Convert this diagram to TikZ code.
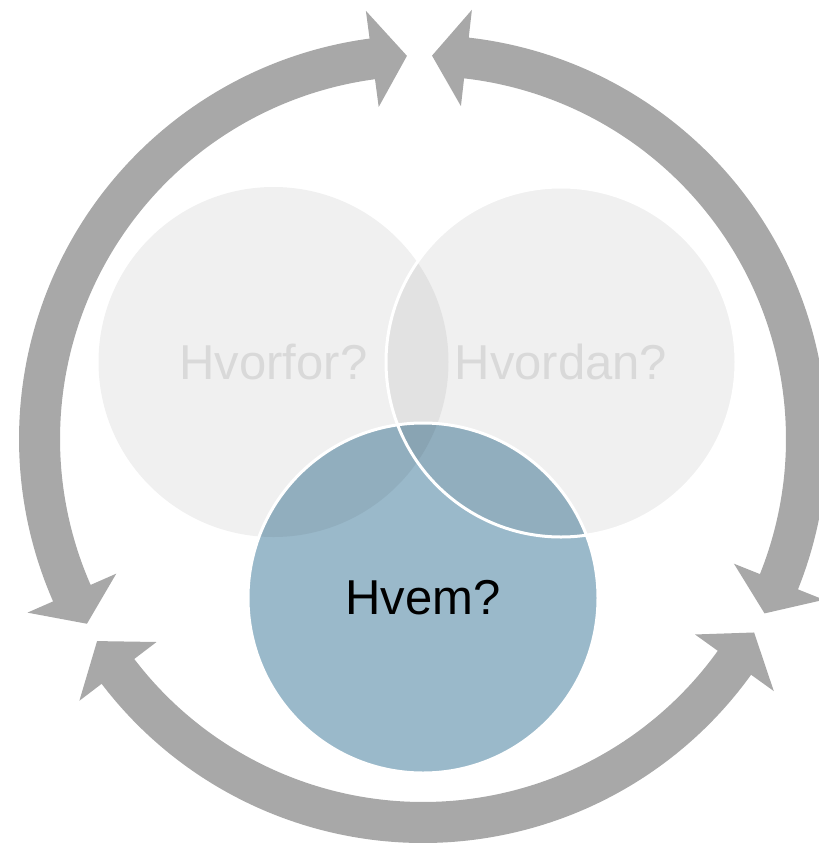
\documentclass[tikz,border=0pt]{standalone}
\usepackage{fontspec}
\setmainfont{Liberation Sans}
\definecolor{ringgray}{HTML}{A8A8A8}
\definecolor{circgray}{HTML}{F0F0F0}
\definecolor{lensgray}{HTML}{E2E2E2}
\definecolor{qblue}{HTML}{9AB9CA}
\definecolor{qblueL}{HTML}{91AEBE}
\definecolor{qblueT}{HTML}{89A4B3}
\definecolor{txtgray}{HTML}{D9D9D9}
\begin{document}
\begin{tikzpicture}[x=1pt,y=1pt,
  ringarrow/.style={fill=ringgray},
  qlabel/.style={inner sep=0pt, font=\fontsize{49}{58}\selectfont},
  whiteedge/.style={draw=white, line width=3pt}]
\useasboundingbox (0,0) rectangle (819,-846);
\clip (0,0) rectangle (819,-846);
\coordinate (L) at (273.5,-362);
\coordinate (R) at (561,-362);
\coordinate (B) at (423,-598);
\coordinate (C) at (423,-439);
% circular arrows
\begin{scope}[shift={(C)}]
\fill[ringarrow] (97.6:404) arc[start angle=97.6, end angle=203.7, radius=404]
  -- (203.7:432) -- (208.8:383.5) -- (203.7:335) -- (203.7:363)
  arc[start angle=203.7, end angle=97.6, radius=363]
  -- (97.6:335) -- (92.4:383.5) -- (97.6:432) -- cycle;
\fill[ringarrow] (83.5:404) arc[start angle=83.5, end angle=-21.85, radius=404]
  -- (-21.85:432) -- (-27.05:383.5) -- (-21.85:335) -- (-21.85:363)
  arc[start angle=-21.85, end angle=83.5, radius=363]
  -- (83.5:335) -- (88.65:383.5) -- (83.5:432) -- cycle;
\fill[ringarrow] (217.3:404) arc[start angle=217.3, end angle=324.3, radius=404]
  -- (324.3:432) -- (329.7:383.5) -- (324.3:335) -- (324.3:363)
  arc[start angle=324.3, end angle=217.3, radius=363]
  -- (217.3:335) -- (211.8:383.5) -- (217.3:432) -- cycle;
\end{scope}
% circles
\fill[circgray] (L) circle[radius=175];
\fill[circgray] (R) circle[radius=175];
\begin{scope}
  \clip (L) circle[radius=175];
  \fill[lensgray] (R) circle[radius=175];
\end{scope}
\fill[qblue] (B) circle[radius=175];
\begin{scope}
  \clip (B) circle[radius=175];
  \fill[qblueL] (L) circle[radius=175];
  \fill[qblueL] (R) circle[radius=175];
  \clip (L) circle[radius=175];
  \fill[qblueT] (R) circle[radius=175];
\end{scope}
\draw[whiteedge] (R) circle[radius=175];
\draw[whiteedge] (B) circle[radius=175];
% labels
\node[qlabel, text=txtgray] (why) at (L) {Hvorfor?};
\node[qlabel, text=txtgray] (how) at (R) {Hvordan?};
\node[qlabel, text=black] (who) at (B) {Hvem?};
\end{tikzpicture}
\end{document}
